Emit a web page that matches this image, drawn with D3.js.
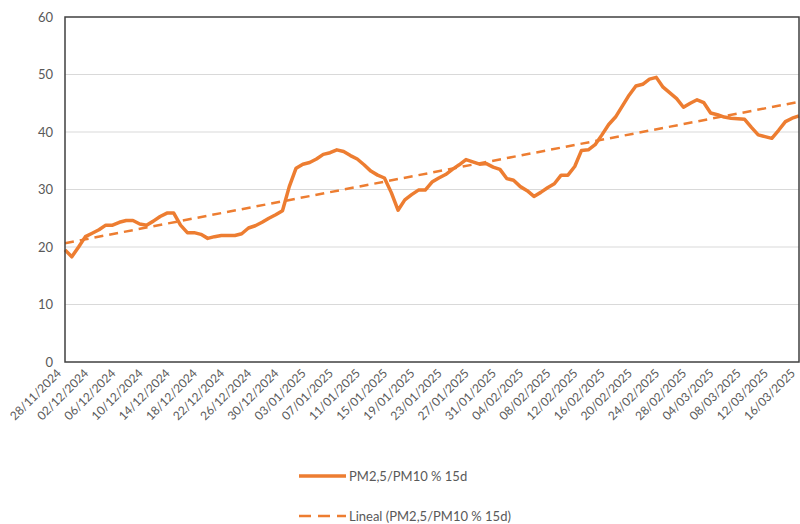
<!DOCTYPE html>
<html>
<head>
<meta charset="utf-8">
<script src="https://cdn.jsdelivr.net/npm/d3@7"></script>
<style>
  body { margin: 0; background: #fff; }
  svg { display: block; font-family: Lato, "Open Sans", sans-serif; }
</style>
</head>
<body>
<svg width="800" height="524"></svg>
<script>
const START_DATE = "2024-11-28";
const SERIES_NAME = "PM2,5/PM10 % 15d";
const TREND_NAME = "Lineal (PM2,5/PM10 % 15d)";
const Y_TICKS = [0, 10, 20, 30, 40, 50, 60];
const TICK_LABELS = [
  "28/11/2024", "02/12/2024", "06/12/2024", "10/12/2024", "14/12/2024",
  "18/12/2024", "22/12/2024", "26/12/2024", "30/12/2024", "03/01/2025",
  "07/01/2025", "11/01/2025", "15/01/2025", "19/01/2025", "23/01/2025",
  "27/01/2025", "31/01/2025", "04/02/2025", "08/02/2025", "12/02/2025",
  "16/02/2025", "20/02/2025", "24/02/2025", "28/02/2025", "04/03/2025",
  "08/03/2025", "12/03/2025", "16/03/2025"
];
// one value per day, 28/11/2024 .. 16/03/2025
const values = [
  19.5, 18.3, 20.0, 21.8, 22.4, 23.0, 23.8, 23.8, 24.3, 24.6,
  24.6, 24.0, 23.8, 24.5, 25.3, 25.9, 25.9, 23.8, 22.5, 22.5,
  22.2, 21.5, 21.8, 22.0, 22.0, 22.0, 22.3, 23.3, 23.7, 24.3,
  25.0, 25.6, 26.3, 30.5, 33.7, 34.4, 34.7, 35.3, 36.1, 36.4,
  36.9, 36.6, 35.9, 35.3, 34.3, 33.2, 32.5, 32.0, 29.5, 26.4,
  28.2, 29.1, 29.9, 29.9, 31.3, 32.0, 32.6, 33.5, 34.3, 35.2,
  34.8, 34.4, 34.5, 33.9, 33.5, 31.9, 31.6, 30.5, 29.8, 28.8,
  29.5, 30.3, 31.0, 32.5, 32.5, 34.0, 36.8, 36.9, 37.8, 39.5,
  41.3, 42.6, 44.5, 46.4, 48.0, 48.3, 49.2, 49.5, 47.8, 46.8,
  45.8, 44.3, 45.0, 45.6, 45.1, 43.3, 43.0, 42.6, 42.4, 42.3,
  42.2, 40.8, 39.5, 39.2, 38.9, 40.3, 41.8, 42.4, 42.8
];

const ORANGE = "#ed7d31";
const plot = { left: 65, right: 799, top: 17, bottom: 362 };

const svg = d3.select("svg");
const start = d3.timeParse("%Y-%m-%d")(START_DATE);
const dates = values.map((v, i) => d3.timeDay.offset(start, i));

const x = d3.scaleTime()
  .domain([dates[0], dates[dates.length - 1]])
  .range([plot.left, plot.right]);
const y = d3.scaleLinear().domain([0, 60]).range([plot.bottom, plot.top]);

// gridlines
svg.append("g")
  .selectAll("line")
  .data(Y_TICKS.slice(1, -1))
  .join("line")
  .attr("x1", plot.left).attr("x2", plot.right)
  .attr("y1", d => y(d)).attr("y2", d => y(d))
  .attr("stroke", "#d9d9d9").attr("stroke-width", 1);

// y labels
svg.append("g")
  .selectAll("text")
  .data(Y_TICKS)
  .join("text")
  .attr("x", 53)
  .attr("y", d => y(d) + 4.5)
  .attr("text-anchor", "end")
  .attr("font-size", 13)
  .attr("fill", "#595959")
  .text(d => d);

// x labels
svg.append("g")
  .selectAll("text")
  .data(TICK_LABELS)
  .join("text")
  .attr("transform", d => {
    const dt = d3.timeParse("%d/%m/%Y")(d);
    return `translate(${x(dt) - 3},${plot.bottom + 12}) rotate(-45)`;
  })
  .attr("text-anchor", "end")
  .attr("font-size", 12)
  .attr("fill", "#595959")
  .text(d => d);

// linear trend (least squares over day index)
const n = values.length;
const mx = d3.mean(values, (v, i) => i);
const my = d3.mean(values);
const slope = d3.sum(values, (v, i) => (i - mx) * (v - my)) /
  d3.sum(values, (v, i) => (i - mx) * (i - mx));
const icpt = my - slope * mx;

svg.append("line")
  .attr("x1", x(dates[0])).attr("y1", y(icpt))
  .attr("x2", x(dates[n - 1])).attr("y2", y(icpt + slope * (n - 1)))
  .attr("stroke", ORANGE)
  .attr("stroke-width", 2.5)
  .attr("stroke-dasharray", "9,6");

// series line
svg.append("path")
  .datum(values)
  .attr("fill", "none")
  .attr("stroke", ORANGE)
  .attr("stroke-width", 3.5)
  .attr("stroke-linejoin", "round")
  .attr("d", d3.line().x((v, i) => x(dates[i])).y(v => y(v)));

// frame
svg.append("rect")
  .attr("x", plot.left).attr("y", plot.top)
  .attr("width", plot.right - plot.left)
  .attr("height", plot.bottom - plot.top)
  .attr("fill", "none")
  .attr("stroke", "#404040")
  .attr("stroke-width", 1.5);

// legend
const legend = svg.append("g").attr("font-size", 13).attr("fill", "#595959");
legend.append("line")
  .attr("x1", 299).attr("x2", 346).attr("y1", 476).attr("y2", 476)
  .attr("stroke", ORANGE).attr("stroke-width", 3.5);
legend.append("text").attr("x", 349).attr("y", 480.5).text(SERIES_NAME);
legend.append("line")
  .attr("x1", 299).attr("x2", 346).attr("y1", 516).attr("y2", 516)
  .attr("stroke", ORANGE).attr("stroke-width", 2.5)
  .attr("stroke-dasharray", "12,7");
legend.append("text").attr("x", 349).attr("y", 520.5).text(TREND_NAME);
</script>
</body>
</html>
